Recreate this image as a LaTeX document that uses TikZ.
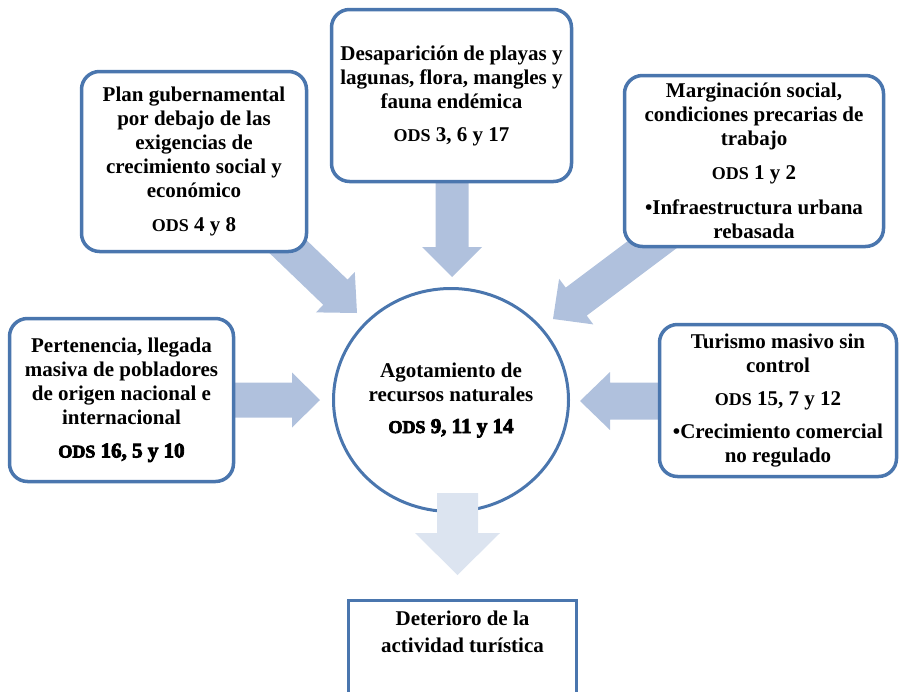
\documentclass[tikz,border=0pt]{standalone}
\usepackage{fontspec}
\setmainfont{Liberation Serif}
\newfontfamily\heavyfam{Liberation Serif}[BoldFeatures={FakeBold=4}]
\usetikzlibrary{calc,shapes.geometric}
\definecolor{bord}{HTML}{4A76AE}
\definecolor{arr}{HTML}{B0C1DD}
\definecolor{arrlight}{HTML}{DCE4F0}
\newcommand\odsA{{\fontsize{18}{24}\selectfont ODS}}
\newcommand\blockarrow[6]{%
  \coordinate (hb) at ($(#3)!#6!(#2)$);
  \fill[#1] ($(#2)!#4!-90:(#3)$) -- ($(hb)!#4!90:(#2)$) -- ($(hb)!#5!90:(#2)$) -- (#3)
    -- ($(hb)!#5!-90:(#2)$) -- ($(hb)!#4!-90:(#2)$) -- ($(#2)!#4!90:(#3)$) -- cycle;}
\begin{document}
\begin{tikzpicture}[x=1pt,y=-1pt,
  box/.style={draw=bord,line width=3.5pt,rounded corners=18pt,fill=white,align=center,inner sep=0pt},
  txt/.style={font=\fontsize{21}{24}\selectfont\bfseries}]
\useasboundingbox (0,0) rectangle (899,691);
\clip (0,0) rectangle (899,691);

% arrow end points
\coordinate (tcS) at (452,175);  \coordinate (tcE) at (452,277);
\coordinate (tlS) at (278,237);  \coordinate (tlE) at (357,313);
\coordinate (trS) at (673,229);  \coordinate (trE) at (553,319);
\coordinate (lmS) at (228,400);  \coordinate (lmE) at (320,400);
\coordinate (rmS) at (665,401);  \coordinate (rmE) at (580,401);
\coordinate (btS) at (457.5,493); \coordinate (btE) at (457.5,575);

\blockarrow{arr}{tcS}{tcE}{16.5pt}{30pt}{30pt}
\blockarrow{arr}{tlS}{tlE}{17.5pt}{28pt}{30pt}
\blockarrow{arr}{trS}{trE}{17.5pt}{28.5pt}{29pt}
\blockarrow{arr}{lmS}{lmE}{17.5pt}{27.5pt}{28pt}
\blockarrow{arr}{rmS}{rmE}{18.5pt}{29pt}{30pt}

\node[box,txt,minimum width=225pt,minimum height=180pt] (B1) at (194,161.5)
 {Plan gubernamental\\ por debajo de las\\ exigencias de\\ crecimiento social y\\ económico\\[10pt] \odsA{} 4 y 8};
\node[box,txt,minimum width=240pt,minimum height=172pt] (B2) at (451.5,95.5)
 {Desaparición de playas y\\ lagunas, flora, mangles y\\ fauna endémica\\[9pt] \odsA{} 3, 6 y 17};
\node[box,txt,minimum width=259pt,minimum height=171pt] (B3) at (754,161)
 {Marginación social,\\ condiciones precarias de\\ trabajo\\[10pt] \odsA{} 1 y 2\\[11pt] •Infraestructura urbana\\ rebasada};
\node[box,txt,minimum width=224pt,minimum height=163pt] (B4) at (121.5,400)
 {Pertenencia, llegada\\ masiva de pobladores\\ de origen nacional e\\ internacional\\[9pt] {\heavyfam\bfseries\odsA{} 16, 5 y 10}};
\node[box,txt,minimum width=237pt,minimum height=152pt] (B5) at (778,400.5)
 {Turismo masivo sin\\ control\\[9pt] \odsA{} 15, 7 y 12\\[9pt] •Crecimiento comercial\\ no regulado};
\node[ellipse,draw=bord,line width=3pt,fill=white,minimum width=235pt,minimum height=223pt,inner sep=0pt,align=center,txt] (C) at (451,400)
 {Agotamiento de\\ recursos naturales\\[8pt] {\heavyfam\bfseries\odsA{} 9, 11 y 14}};

\blockarrow{arrlight}{btS}{btE}{20.5pt}{42.5pt}{42pt}

\node[draw=bord,line width=3pt,minimum width=228pt,minimum height=130pt,anchor=north,inner sep=0pt] (D) at (462.5,598.5) {};
\node[txt,align=center,anchor=north,inner sep=0pt,font=\fontsize{21}{27}\selectfont\bfseries] (Dt) at ($(D.north)+(0,12)$) {Deterioro de la\\ actividad turística};
\end{tikzpicture}
\end{document}
